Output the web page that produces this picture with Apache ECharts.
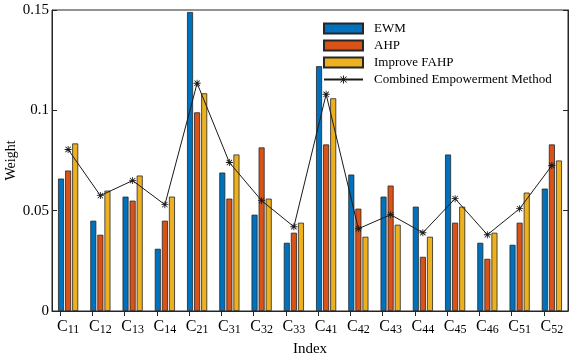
<!DOCTYPE html>
<html><head><meta charset="utf-8">
<script src="https://cdn.jsdelivr.net/npm/echarts@6/dist/echarts.min.js"></script>
<style>html,body{margin:0;padding:0;background:#fff}#c{width:577px;height:364px}</style>
</head><body><div id="c"></div>
<script>
const categories = ['11','12','13','14','21','31','32','33','41','42','43','44','45','46','51','52'];
const ewm  = [0.066,0.045,0.057,0.031,0.149,0.069,0.048,0.034,0.122,0.068,0.057,0.052,0.078,0.034,0.033,0.061];
const ahp  = [0.070,0.038,0.055,0.045,0.099,0.056,0.0815,0.039,0.083,0.051,0.0625,0.027,0.044,0.026,0.044,0.083];
const fahp = [0.0835,0.060,0.0675,0.057,0.1085,0.078,0.056,0.044,0.106,0.037,0.043,0.037,0.052,0.039,0.059,0.075];
const combined = [0.0805,0.0575,0.065,0.053,0.1135,0.074,0.055,0.042,0.108,0.041,0.048,0.039,0.056,0.038,0.051,0.0725];
const yTicks = [0, 0.05, 0.1, 0.15];

const font = 'Liberation Serif';
const star = 'path://M4.4,0L5.6,0L5.6,10L4.4,10Z M0,4.4L10,4.4L10,5.6L0,5.6Z M0.8,1.6L1.6,0.8L9.2,8.4L8.4,9.2Z M8.4,0.8L9.2,1.6L1.6,9.2L0.8,8.4Z';
const chart = echarts.init(document.getElementById('c'));
const barStyle = c => ({color: c, borderColor: '#262626', borderWidth: 0.8});
chart.setOption({
  animation: false,
  backgroundColor: '#fff',
  textStyle: {fontFamily: font},
  grid: [
    {left: 52, right: 9, top: 10, bottom: 53, show: true, borderColor: '#262626', borderWidth: 1, outerBoundsMode: 'none', containLabel: false},
    {left: 60, right: 33, top: 10, bottom: 53, outerBoundsMode: 'none', containLabel: false}
  ],
  legend: {
    left: 318, top: 16, orient: 'vertical', itemWidth: 39, itemHeight: 10, itemGap: 2,
    textStyle: {fontFamily: font, fontSize: 13, color: '#000', lineHeight: 15, padding: [0,0,0,6]},
    data: [{name:'EWM', icon:'rect'}, {name:'AHP', icon:'rect'}, {name:'Improve FAHP', icon:'rect'}, {name:'Combined Empowerment Method'}]
  },
  xAxis: [
    {type: 'category', gridIndex: 0, data: categories, z: 5,
     name: 'Index', nameLocation: 'middle', nameGap: 31, nameMoveOverlap: false,
     nameTextStyle: {fontFamily: font, fontSize: 15, color: '#000'},
     axisLine: {lineStyle: {color: '#262626'}},
     axisTick: {inside: true, alignWithLabel: true, length: 5, lineStyle: {color: '#262626'}},
     axisLabel: {margin: 7, formatter: v => 'C{s|' + v + '}', color: '#000',
       rich: {s: {fontFamily: font, fontSize: 12, color: '#000', verticalAlign: 'bottom', padding: [6,0,0,0]}},
       fontFamily: font, fontSize: 16, interval: 0}},
    {type: 'category', gridIndex: 1, data: categories, position: 'top', boundaryGap: false,
     axisLine: {show: false}, axisLabel: {show: false},
     axisTick: {inside: true, length: 5, interval: 0, lineStyle: {color: '#262626'}}}
  ],
  yAxis: [
    {type: 'value', gridIndex: 0, min: 0, max: 0.15, interval: 0.05,
     name: 'Weight', nameLocation: 'middle', nameGap: 34, nameMoveOverlap: false,
     nameTextStyle: {fontFamily: font, fontSize: 14, color: '#000'},
     axisLine: {show: true, lineStyle: {color: '#262626'}},
     axisTick: {show: true, inside: true, length: 5, lineStyle: {color: '#262626'}},
     axisLabel: {fontFamily: font, fontSize: 15, color: '#000', margin: 3, formatter: v => String(+v.toFixed(2))},
     splitLine: {show: false}},
    {type: 'value', gridIndex: 0, min: 0, max: 0.15, interval: 0.05, position: 'right',
     axisLine: {show: true, lineStyle: {color: '#262626'}},
     axisTick: {show: true, inside: true, length: 5, lineStyle: {color: '#262626'}},
     axisLabel: {show: false}, splitLine: {show: false}},
    {type: 'value', gridIndex: 1, show: false, min: 0, max: 0.15}
  ],
  series: [
    {name: 'EWM', type: 'bar', data: ewm, barWidth: 6, barGap: '18%', itemStyle: barStyle('#0072BD')},
    {name: 'AHP', type: 'bar', data: ahp, barWidth: 6, barGap: '18%', itemStyle: barStyle('#D95319')},
    {name: 'Improve FAHP', type: 'bar', data: fahp, barWidth: 6, barGap: '18%', itemStyle: barStyle('#EDB120')},
    {name: 'Combined Empowerment Method', type: 'line', data: combined, z: 4,
     symbol: star, symbolSize: 7, showAllSymbol: true,
     lineStyle: {color: '#1a1a1a', width: 1}, itemStyle: {color: '#1a1a1a'}}
  ]
});
</script></body></html>
